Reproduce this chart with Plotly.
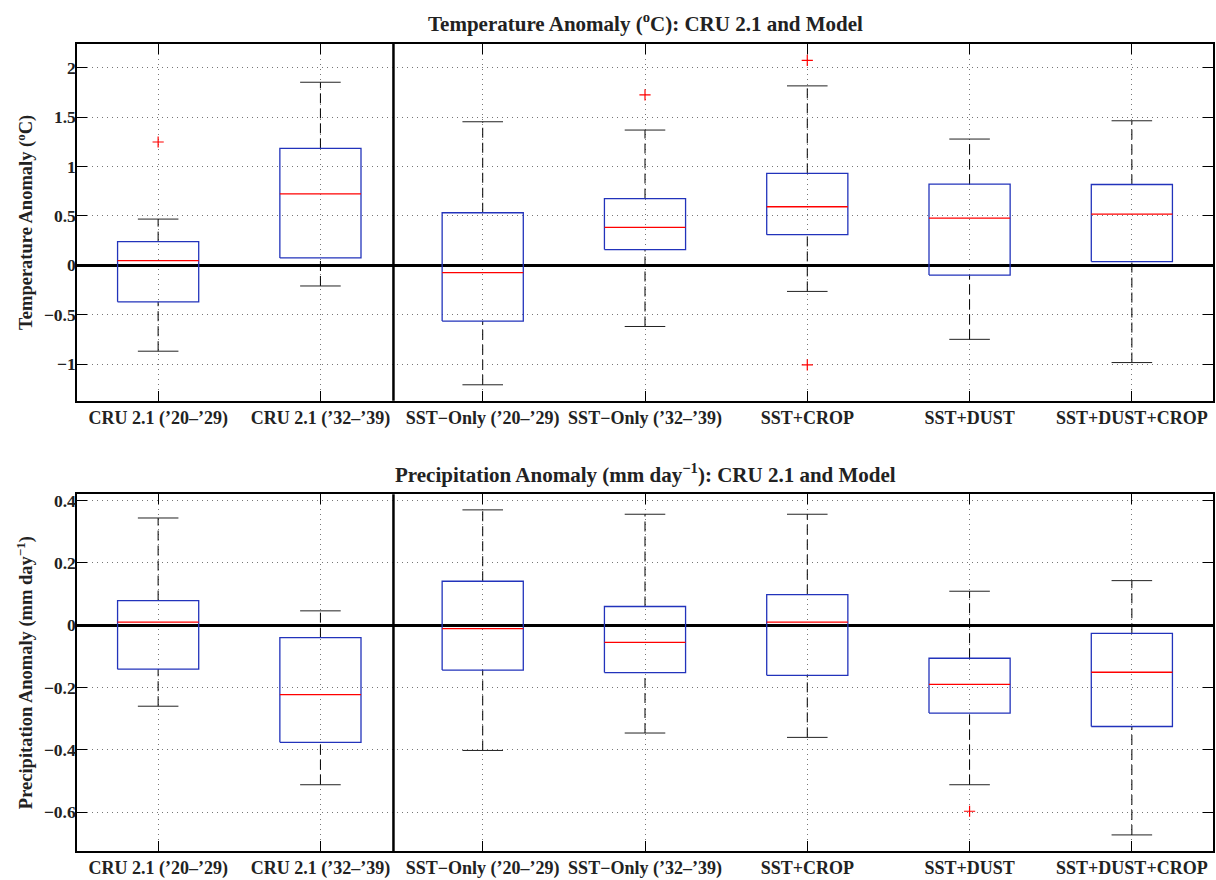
import plotly.graph_objects as go
from plotly.subplots import make_subplots

categories = ["CRU 2.1 (\u201920\u2013\u201929)", "CRU 2.1 (\u201932\u2013\u201939)",
              "SST\u2212Only (\u201920\u2013\u201929)", "SST\u2212Only (\u201932\u2013\u201939)",
              "SST+CROP", "SST+DUST", "SST+DUST+CROP"]
positions = [1, 2, 3, 4, 5, 6, 7]

# Temperature anomaly (deg C)
t_lower = [-0.87, -0.21, -1.21, -0.62, -0.265, -0.75, -0.985]
t_q1 = [-0.37, 0.074, -0.565, 0.158, 0.309, -0.10, 0.037]
t_median = [0.047, 0.723, -0.074, 0.383, 0.592, 0.477, 0.517]
t_q3 = [0.239, 1.183, 0.531, 0.675, 0.930, 0.82, 0.817]
t_upper = [0.467, 1.852, 1.452, 1.368, 1.815, 1.277, 1.462]
t_out_x = [1, 4, 5, 5]
t_out_y = [1.247, 1.724, 2.074, -1.008]

# Precipitation anomaly (mm/day)
p_lower = [-0.260, -0.512, -0.402, -0.346, -0.360, -0.512, -0.673]
p_q1 = [-0.141, -0.376, -0.144, -0.152, -0.161, -0.282, -0.325]
p_median = [0.010, -0.223, -0.011, -0.055, 0.010, -0.190, -0.151]
p_q3 = [0.079, -0.040, 0.141, 0.060, 0.098, -0.106, -0.026]
p_upper = [0.344, 0.046, 0.370, 0.356, 0.356, 0.109, 0.143]
p_out_x = [6]
p_out_y = [-0.597]

temp_ticks = [-1, -0.5, 0, 0.5, 1, 1.5, 2]
temp_ticktext = ["\u22121", "\u22120.5", "0", "0.5", "1", "1.5", "2"]
prec_ticks = [-0.6, -0.4, -0.2, 0, 0.2, 0.4]
prec_ticktext = ["\u22120.6", "\u22120.4", "\u22120.2", "0", "0.2", "0.4"]

BOX_HW = 0.25
CAP_HW = 0.125
DIVIDER_X = 2.45

fig = make_subplots(rows=2, cols=1, vertical_spacing=0.116)


def add_boxes(row, lower, q1, med, q3, upper, ox, oy):
    bx, by, mx, my, wx, wy, cx, cy = [], [], [], [], [], [], [], []
    for p, lo, a, m, b, hi in zip(positions, lower, q1, med, q3, upper):
        bx += [p - BOX_HW, p + BOX_HW, p + BOX_HW, p - BOX_HW, p - BOX_HW, None]
        by += [a, a, b, b, a, None]
        mx += [p - BOX_HW, p + BOX_HW, None]
        my += [m, m, None]
        wx += [p, p, None, p, p, None]
        wy += [b, hi, None, lo, a, None]
        cx += [p - CAP_HW, p + CAP_HW, None, p - CAP_HW, p + CAP_HW, None]
        cy += [hi, hi, None, lo, lo, None]
    fig.add_trace(go.Scatter(x=wx, y=wy, mode="lines",
                             line=dict(color="black", width=1, dash="10px,5px"),
                             showlegend=False, hoverinfo="skip"), row=row, col=1)
    fig.add_trace(go.Scatter(x=cx, y=cy, mode="lines",
                             line=dict(color="#222222", width=1),
                             showlegend=False, hoverinfo="skip"), row=row, col=1)
    fig.add_trace(go.Scatter(x=bx, y=by, mode="lines",
                             line=dict(color="#2233bb", width=1.3),
                             showlegend=False, hoverinfo="skip"), row=row, col=1)
    fig.add_trace(go.Scatter(x=mx, y=my, mode="lines",
                             line=dict(color="#ff0000", width=1.3),
                             showlegend=False, hoverinfo="skip"), row=row, col=1)
    fig.add_trace(go.Scatter(x=ox, y=oy, mode="markers",
                             marker=dict(symbol="cross-thin", size=8,
                                         line=dict(color="red", width=1.2)),
                             showlegend=False, hoverinfo="skip"), row=row, col=1)


add_boxes(1, t_lower, t_q1, t_median, t_q3, t_upper, t_out_x, t_out_y)
add_boxes(2, p_lower, p_q1, p_median, p_q3, p_upper, p_out_x, p_out_y)

font_fam = "Liberation Serif"
xtick_font = dict(family=font_fam, size=18, color="#222222", weight="bold")
ytick_font = dict(family=font_fam, size=17.5, color="#222222", weight="bold")

axis_common = dict(showline=True, linecolor="black", linewidth=1.5, mirror="ticks",
                   ticks="inside", ticklen=10, tickcolor="black", tickwidth=1,
                   showgrid=True, gridcolor="#777777", griddash="1px,4px", gridwidth=1)

for r in (1, 2):
    fig.update_xaxes(range=[0.5, 7.5], tickvals=positions, ticktext=categories,
                     zeroline=False, tickfont=xtick_font, row=r, col=1, **axis_common)

ytitle_font = dict(family=font_fam, size=18.5, color="#222222", weight="bold")
fig.update_yaxes(range=[-1.371, 2.239], tickvals=temp_ticks, ticktext=temp_ticktext,
                 zeroline=True, zerolinecolor="black", zerolinewidth=2.5,
                 tickfont=ytick_font, ticklabelstandoff=-4,
                 title=dict(text="Temperature Anomaly (<sup>o</sup>C)", font=ytitle_font,
                            standoff=6),
                 row=1, col=1, **axis_common)
fig.update_yaxes(range=[-0.7246, 0.42], tickvals=prec_ticks, ticktext=prec_ticktext,
                 zeroline=True, zerolinecolor="black", zerolinewidth=2.5,
                 tickfont=ytick_font, ticklabelstandoff=-4,
                 title=dict(text="Precipitation Anomaly (mm day<sup>\u22121</sup>)",
                            font=ytitle_font, standoff=6),
                 row=2, col=1, **axis_common)

for yr, xr in (("y domain", "x"), ("y2 domain", "x2")):
    fig.add_shape(type="line", xref=xr, yref=yr, x0=DIVIDER_X, x1=DIVIDER_X, y0=0, y1=1,
                  line=dict(color="black", width=2.5))

title_font = dict(family=font_fam, size=21, color="#222222", weight="bold")
fig.add_annotation(text="Temperature Anomaly (<sup>o</sup>C): CRU 2.1 and Model",
                   xref="paper", yref="paper", x=0.5, y=1.0, yshift=22,
                   showarrow=False, font=title_font, yanchor="middle")
fig.add_annotation(text="Precipitation Anomaly (mm day<sup>\u22121</sup>): CRU 2.1 and Model",
                   xref="paper", yref="paper", x=0.5, y=0.442, yshift=21,
                   showarrow=False, font=title_font, yanchor="middle")

fig.update_layout(width=1216, height=880, margin=dict(l=77, r=1, t=44, b=26),
                  plot_bgcolor="white", paper_bgcolor="white")

fig.write_html("out.html", config={"displayModeBar": False},
               post_script="document.body.style.margin='0';document.body.style.overflow='hidden';")
